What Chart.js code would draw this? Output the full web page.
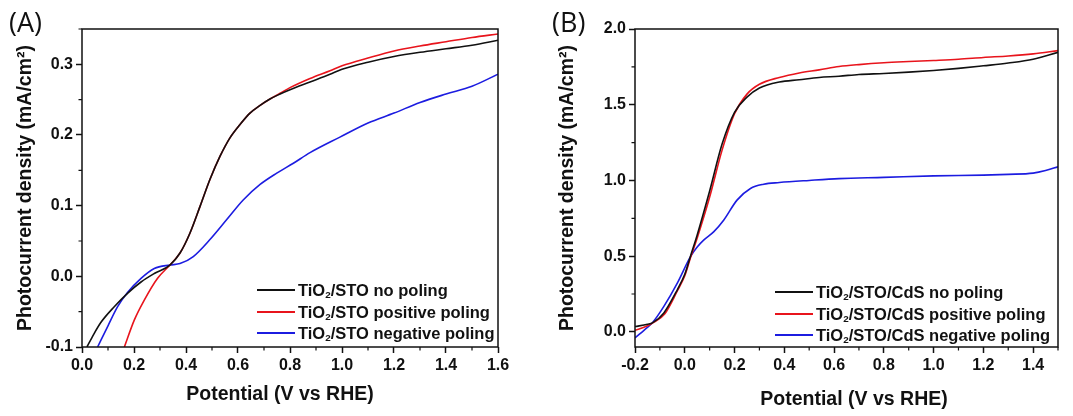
<!DOCTYPE html>
<html>
<head>
<meta charset="utf-8">
<script src="https://cdn.jsdelivr.net/npm/chart.js@4.4.1/dist/chart.umd.min.js"></script>
<style>
    body { margin: 0; background: #fff; }
    #wrap { position: relative; width: 1073px; height: 416px; overflow: hidden; }
    .panel { position: absolute; top: 0; height: 416px; }
    #panelA { left: 0; width: 536px; }
    #panelB { left: 536px; width: 537px; }
    .tag { position: absolute; font-family: "Open Sans", sans-serif; font-size: 27px; line-height: 32px; color: #111; }
    .xtitle { position: absolute; width: 300px; text-align: center; font-family: "Liberation Sans", Arial, sans-serif; font-weight: bold; font-size: 19.5px; line-height: 24px; color: #111; }
    .legend { position: absolute; font-family: "Liberation Sans", Arial, sans-serif; font-weight: bold; font-size: 16.5px; color: #111; }
    .legend .row { position: absolute; left: 0; height: 20px; line-height: 20px; white-space: nowrap; }
    .legend .swatch { position: absolute; left: 0; top: 9px; width: 38px; height: 2px; }
    .legend .label { position: absolute; left: 41px; top: 0; }
    .legend .sub { font-size: 60%; position: relative; top: 2px; }
</style>
</head>
<body>
<div id="wrap">
    <div class="panel" id="panelA"><canvas id="chartA" width="536" height="416"></canvas></div>
    <div class="panel" id="panelB"><canvas id="chartB" width="537" height="416"></canvas></div>
    <div class="tag" style="left:9px; top:6px;">(A)</div>
    <div class="tag" style="left:552px; top:6px;">(B)</div>
    <div class="xtitle" style="left:130px; top:381px;">Potential (V vs RHE)</div>
    <div class="xtitle" style="left:704px; top:386px;">Potential (V vs RHE)</div>
    <div class="legend" id="legendA" style="left:257px; top:280px;"></div>
    <div class="legend" id="legendB" style="left:775px; top:282px;"></div>
</div>
<script>
// Panel A: TiO2/STO, potential (V vs RHE) and photocurrent (mA/cm2)
const aNoPolingV  = [0.019, 0.045, 0.073, 0.124, 0.175, 0.227, 0.278, 0.338, 0.377, 0.415, 0.454, 0.492, 0.531, 0.569, 0.608, 0.646, 0.685, 0.723, 0.762, 0.8, 0.877, 0.954, 1.0, 1.1, 1.2, 1.3, 1.4, 1.5, 1.6];
const aNoPolingJ  = [-0.1, -0.082, -0.065, -0.043, -0.024, -0.008, 0.004, 0.016, 0.033, 0.061, 0.099, 0.137, 0.17, 0.196, 0.215, 0.231, 0.242, 0.251, 0.258, 0.264, 0.275, 0.286, 0.293, 0.303, 0.311, 0.317, 0.322, 0.327, 0.334];
const aPositiveV  = [0.163, 0.201, 0.239, 0.29, 0.338, 0.377, 0.415, 0.454, 0.492, 0.531, 0.569, 0.608, 0.646, 0.685, 0.723, 0.762, 0.8, 0.877, 0.954, 1.0, 1.1, 1.2, 1.3, 1.4, 1.5, 1.6];
const aPositiveJ  = [-0.1, -0.062, -0.034, -0.003, 0.016, 0.033, 0.061, 0.099, 0.137, 0.17, 0.196, 0.215, 0.231, 0.242, 0.251, 0.259, 0.267, 0.28, 0.291, 0.298, 0.309, 0.319, 0.326, 0.332, 0.338, 0.343];
const aNegativeV  = [0.06, 0.1, 0.137, 0.175, 0.227, 0.278, 0.338, 0.377, 0.428, 0.492, 0.556, 0.62, 0.685, 0.749, 0.813, 0.877, 0.992, 1.1, 1.2, 1.3, 1.4, 1.5, 1.6];
const aNegativeJ  = [-0.1, -0.07, -0.043, -0.023, -0.003, 0.011, 0.016, 0.018, 0.028, 0.052, 0.08, 0.108, 0.13, 0.146, 0.16, 0.175, 0.197, 0.217, 0.231, 0.246, 0.258, 0.269, 0.286];
const aXTicks = [0.0, 0.2, 0.4, 0.6, 0.8, 1.0, 1.2, 1.4, 1.6];
const aYTicks = [-0.1, 0.0, 0.1, 0.2, 0.3];

// Panel B: TiO2/STO/CdS
const bNoPolingV  = [-0.2, -0.15, -0.13, -0.084, -0.03, 0.0, 0.023, 0.05, 0.1, 0.15, 0.2, 0.25, 0.3, 0.38, 0.46, 0.54, 0.62, 0.7, 0.8, 0.9, 1.0, 1.1, 1.2, 1.3, 1.4, 1.5];
const bNoPolingJ  = [0.035, 0.05, 0.059, 0.125, 0.278, 0.38, 0.5, 0.64, 0.93, 1.24, 1.45, 1.55, 1.61, 1.65, 1.665, 1.68, 1.688, 1.70, 1.706, 1.715, 1.726, 1.74, 1.757, 1.775, 1.80, 1.846];
const bPositiveV  = [-0.2, -0.15, -0.13, -0.08, -0.03, 0.0, 0.023, 0.05, 0.1, 0.15, 0.2, 0.25, 0.3, 0.38, 0.46, 0.54, 0.62, 0.7, 0.8, 0.9, 1.0, 1.1, 1.2, 1.3, 1.4, 1.5];
const bPositiveJ  = [0.01, 0.04, 0.058, 0.12, 0.27, 0.37, 0.49, 0.62, 0.89, 1.2, 1.44, 1.57, 1.635, 1.68, 1.71, 1.73, 1.752, 1.765, 1.777, 1.785, 1.792, 1.8, 1.812, 1.822, 1.836, 1.857];
const bNegativeV  = [-0.2, -0.15, -0.13, -0.084, -0.03, 0.023, 0.05, 0.077, 0.117, 0.157, 0.21, 0.264, 0.317, 0.38, 0.5, 0.62, 0.8, 1.0, 1.2, 1.3, 1.4, 1.45, 1.5];
const bNegativeJ  = [-0.04, 0.03, 0.06, 0.168, 0.322, 0.497, 0.56, 0.607, 0.662, 0.739, 0.87, 0.947, 0.975, 0.986, 1.0, 1.012, 1.02, 1.03, 1.035, 1.04, 1.048, 1.065, 1.09];
const bXTicks = [-0.2, 0.0, 0.2, 0.4, 0.6, 0.8, 1.0, 1.2, 1.4];
const bYTicks = [0.0, 0.5, 1.0, 1.5, 2.0];

const seriesNamesA = ['TiO₂/STO no poling', 'TiO₂/STO positive poling', 'TiO₂/STO negative poling'];
const seriesNamesB = ['TiO₂/STO/CdS no poling', 'TiO₂/STO/CdS positive poling', 'TiO₂/STO/CdS negative poling'];
const seriesColors = ['#111111', '#e8141c', '#1c1ce0'];

const FONT = '"Liberation Sans", Arial, sans-serif';

function toPoints(xs, ys) {
    return xs.map((x, i) => ({ x: x, y: ys[i] }));
}

// frame around the plot area plus short minor ticks halfway between major ones
const framePlugin = {
    id: 'frame',
    afterDraw(chart) {
        const ctx = chart.ctx;
        const area = chart.chartArea;
        ctx.save();
        ctx.strokeStyle = '#111';
        ctx.lineWidth = 1.5;
        ctx.strokeRect(area.left, area.top, area.right - area.left, area.bottom - area.top);

        const xs = chart.scales.x;
        const ys = chart.scales.y;
        ctx.lineWidth = 1.2;
        ctx.beginPath();
        for (let i = 0; i < xs.ticks.length; i++) {
            const v = xs.ticks[i].value;
            const next = i + 1 < xs.ticks.length ? xs.ticks[i + 1].value : v + (xs.ticks[1].value - xs.ticks[0].value);
            const mid = (v + next) / 2;
            if (mid > xs.max + 1e-9) continue;
            const px = xs.getPixelForValue(mid);
            ctx.moveTo(px, area.bottom);
            ctx.lineTo(px, area.bottom + 3.5);
        }
        for (let i = 0; i < ys.ticks.length; i++) {
            const v = ys.ticks[i].value;
            const next = i + 1 < ys.ticks.length ? ys.ticks[i + 1].value : v + (ys.ticks[1].value - ys.ticks[0].value);
            const mid = (v + next) / 2;
            if (mid > ys.max + 1e-9) continue;
            const py = ys.getPixelForValue(mid);
            ctx.moveTo(area.left, py);
            ctx.lineTo(area.left - 3.5, py);
        }
        ctx.stroke();
        ctx.restore();
    }
};

function makeChart(canvasId, cfg) {
    const datasets = cfg.series.map((s, i) => ({
        label: cfg.names[i],
        data: toPoints(s[0], s[1]),
        borderColor: seriesColors[i],
        borderWidth: 1.6,
        pointRadius: 0,
        fill: false,
        cubicInterpolationMode: 'monotone'
    }));

    const tickFont = { family: FONT, size: 16, weight: 'bold' };
    const titleFont = { family: FONT, size: 19.5, weight: 'bold' };

    return new Chart(document.getElementById(canvasId), {
        type: 'line',
        data: { datasets: datasets },
        options: {
            responsive: false,
            animation: false,
            clip: 0,
            layout: { padding: { left: 0, right: cfg.padRight, top: 29, bottom: 0 } },
            plugins: { legend: { display: false }, tooltip: { enabled: false } },
            scales: {
                x: {
                    type: 'linear',
                    min: cfg.xMin,
                    max: cfg.xMax,
                    afterBuildTicks: scale => { scale.ticks = cfg.xTicks.map(v => ({ value: v })); },
                    afterFit: scale => { scale.height = 69; },
                    border: { display: false },
                    grid: { drawOnChartArea: false, drawTicks: true, tickLength: 6, tickWidth: 1.5, tickColor: '#111' },
                    ticks: {
                        font: tickFont, color: '#111', padding: 3, maxRotation: 0,
                        callback: v => v.toFixed(1)
                    },
                    title: { display: false }
                },
                y: {
                    type: 'linear',
                    min: cfg.yMin,
                    max: cfg.yMax,
                    afterBuildTicks: scale => { scale.ticks = cfg.yTicks.map(v => ({ value: v })); },
                    afterFit: scale => { scale.width = cfg.yWidth; },
                    border: { display: false },
                    grid: { drawOnChartArea: false, drawTicks: true, tickLength: 6, tickWidth: 1.5, tickColor: '#111' },
                    ticks: {
                        font: tickFont, color: '#111', padding: 3,
                        callback: v => v.toFixed(1)
                    },
                    title: { display: true, text: 'Photocurrent density (mA/cm²)', font: titleFont, color: '#111', padding: { top: cfg.yTitlePad, bottom: 0 } }
                }
            }
        },
        plugins: [framePlugin]
    });
}

function buildLegend(id, names) {
    const box = document.getElementById(id);
    names.forEach((name, i) => {
        const row = document.createElement('div');
        row.className = 'row';
        row.style.top = (i * 21.5) + 'px';
        const sw = document.createElement('div');
        sw.className = 'swatch';
        sw.style.background = seriesColors[i];
        const lab = document.createElement('div');
        lab.className = 'label';
        const parts = name.split('₂');
        lab.appendChild(document.createTextNode(parts[0]));
        const sub = document.createElement('span');
        sub.className = 'sub';
        sub.textContent = '2';
        lab.appendChild(sub);
        lab.appendChild(document.createTextNode(parts[1]));
        row.appendChild(sw);
        row.appendChild(lab);
        box.appendChild(row);
    });
}

makeChart('chartA', {
    series: [[aNoPolingV, aNoPolingJ], [aPositiveV, aPositiveJ], [aNegativeV, aNegativeJ]],
    names: seriesNamesA,
    xMin: 0, xMax: 1.6, yMin: -0.1, yMax: 0.35,
    xTicks: aXTicks, yTicks: aYTicks,
    yWidth: 82, padRight: 38, yTitlePad: 14
});

makeChart('chartB', {
    series: [[bNoPolingV, bNoPolingJ], [bPositiveV, bPositiveJ], [bNegativeV, bNegativeJ]],
    names: seriesNamesB,
    xMin: -0.2, xMax: 1.5, yMin: -0.1, yMax: 2.0,
    xTicks: bXTicks, yTicks: bYTicks,
    yWidth: 99, padRight: 15, yTitlePad: 20
});

buildLegend('legendA', seriesNamesA);
buildLegend('legendB', seriesNamesB);
</script>
</body>
</html>
